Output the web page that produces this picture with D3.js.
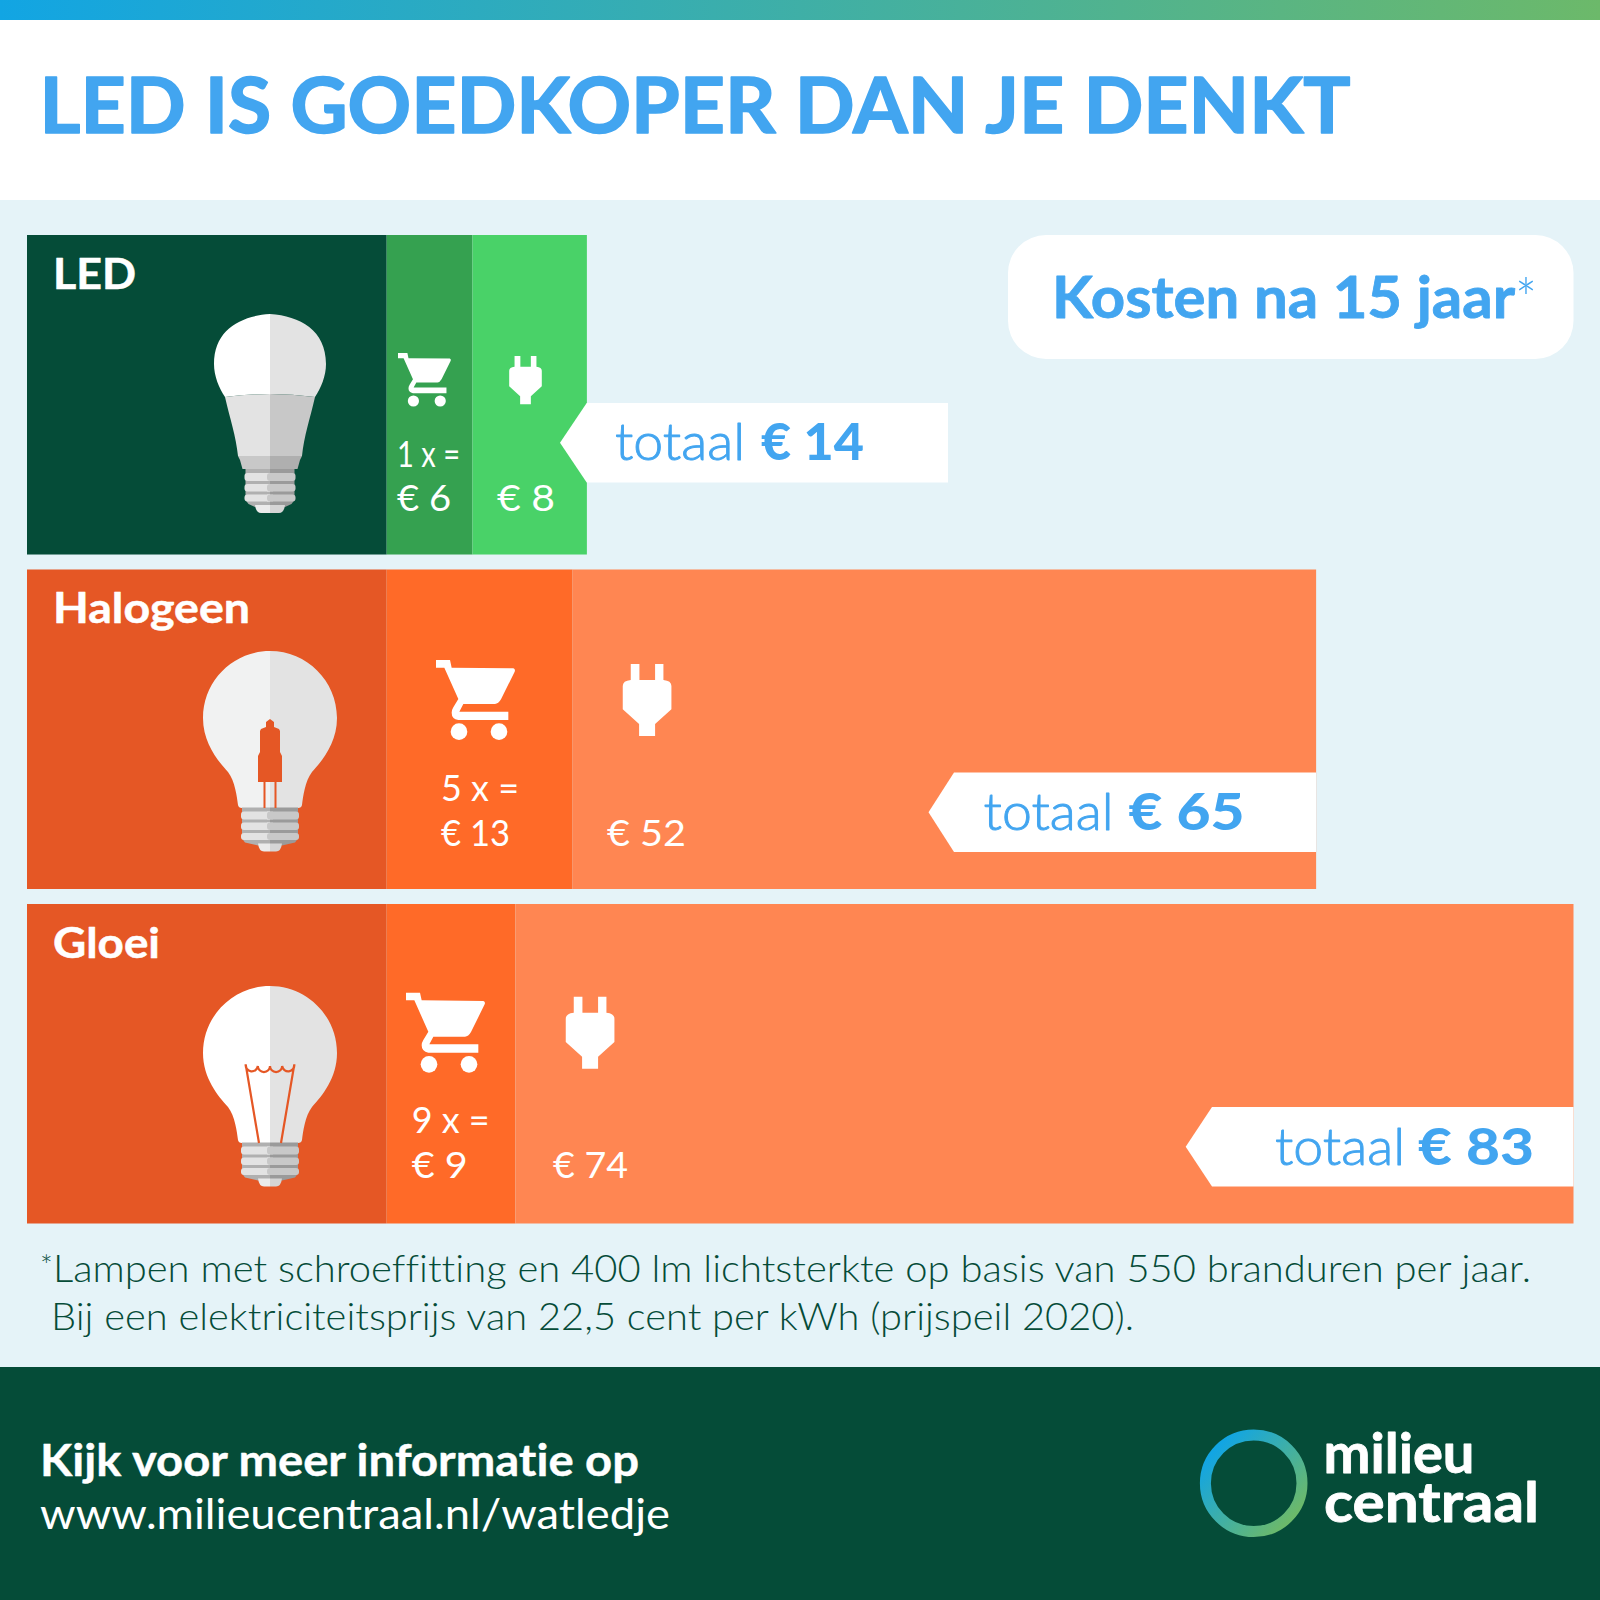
<!DOCTYPE html>
<html lang="nl">
<head>
<meta charset="utf-8">
<title>LED is goedkoper dan je denkt</title>
<script src="https://cdn.jsdelivr.net/npm/d3@7"></script>
<style>
  html, body { margin: 0; padding: 0; background: #e5f3f8; }
  svg { display: block; }
  text { font-family: Lato, "Open Sans", sans-serif; font-variant-ligatures: none; }
</style>
</head>
<body>
<svg id="chart" width="1600" height="1600"></svg>
<script>
// Values
const lampTypes = ["LED", "Halogeen", "Gloei"];
const lampCounts = [1, 5, 9];
const purchaseCosts = [6, 13, 9];
const powerCosts = [8, 52, 74];
const totalCosts = [14, 65, 83];

const titleText = "LED IS GOEDKOPER DAN JE DENKT";
const badgeText = "Kosten na 15 jaar";
const noteLines = [
  "Lampen met schroeffitting en 400 lm lichtsterkte op basis van 550 branduren per jaar.",
  "Bij een elektriciteitsprijs van 22,5 cent per kWh (prijspeil 2020)."
];
const footerLines = ["Kijk voor meer informatie op", "www.milieucentraal.nl/watledje"];
const logoLines = ["milieu", "centraal"];

// Colours per row: lamp panel, purchase part, power part
const ledColors = ["#054c38", "#35a150", "#49d268"];
const orangeColors = ["#e55725", "#ff6a28", "#ff8652"];
const rowColors = [ledColors, orangeColors, orangeColors];
const blue = "#42a5f0";

// Hand placed bits for each row, offsets are from the row top / segment start
const rowLayout = [
  { icon: 0.67, cartX: 398, cartY: 118, plugX: 53, plugY: 121, countX: 397, countW: 63, buyW: 54, powerX: 497, powerW: 58, line1: 232, line2: 276, boxY: 168, labelW: 83 },
  { icon: 1, cartX: 436, cartY: 90.5, plugX: 74.5, plugY: 94.5, countX: 441, countW: 78, buyW: 69, powerX: 607, powerW: 79, line1: 232, line2: 277, boxY: 203, labelW: 197 },
  { icon: 1, cartX: 406, cartY: 88.7, plugX: 74.7, plugY: 92.7, countX: 411.7, countW: 78, buyW: 56, powerX: 553, powerW: 75, line1: 229, line2: 274, boxY: 203, labelW: 107 }
];
const totalLayout = [
  { tip: 560, flat: 586.7, right: 948, text: 615, euro: 761, euroW: 103, base: 225 },
  { tip: 928.5, flat: 954, right: 1316, text: 983.6, euro: 1128.6, euroW: 116, base: 260.5 },
  { tip: 1185.7, flat: 1212, right: 1573.5, text: 1275, euro: 1418, euroW: 116, base: 261 }
];

const svg = d3.select("#chart");
const defs = svg.append("defs");

// 14.3 px per euro, same for all three bars
const x = d3.scaleLinear().domain([0, 83]).range([386.7, 1573.5]);
const y = d3.scaleBand().domain(lampTypes).range([235, 1223.5]).paddingInner(0.0448);

function addText(g, str, px, py, size, weight, fill, width, thicken) {
  const t = g.append("text")
    .attr("x", px).attr("y", py)
    .attr("font-size", size).attr("font-weight", weight)
    .attr("fill", fill)
    .text(str);
  if (width) t.attr("textLength", width).attr("lengthAdjust", "spacingAndGlyphs");
  if (thicken) t.attr("stroke", fill).attr("stroke-width", thicken).attr("stroke-linejoin", "round");
  return t;
}

// Background, header strip, footer
const topGrad = defs.append("linearGradient").attr("id", "topGrad");
topGrad.append("stop").attr("offset", "0%").attr("stop-color", "#12a5e3");
topGrad.append("stop").attr("offset", "100%").attr("stop-color", "#6cb96a");

svg.append("rect").attr("width", 1600).attr("height", 1600).attr("fill", "#e5f3f8");
svg.append("rect").attr("width", 1600).attr("height", 200).attr("fill", "#fff");
svg.append("rect").attr("width", 1600).attr("height", 20).attr("fill", "url(#topGrad)");
svg.append("rect").attr("y", 1367).attr("width", 1600).attr("height", 233).attr("fill", "#054c38");

addText(svg, titleText, 39.5, 132.5, 77, 700, blue, 1311, 1.6);

// Badge top right
svg.append("rect").attr("x", 1008).attr("y", 235).attr("width", 565.5).attr("height", 124)
  .attr("rx", 38).attr("fill", "#fff");
addText(svg, badgeText, 1052, 318, 57, 700, blue, 463, 0.8);
addText(svg, "*", 1515, 320, 58, 300, blue, 22);

// Shapes, left half of the lamp only, mirrored for the right half
const roundBulb = "M0,0 C-37,0 -67,30 -67,67 C-67,92 -52,110 -42,121 C-35,130 -33,146 -32,154 Q-31.5,157 -28,157 L0,157 Z";
const ledTop = "M0,0 C-30,2 -56,16 -56,50 C-56,62 -51,74 -45,83 Q-22,80 0,80 Z";
const ledLow = "M-45,83 Q-22,80 0,80 L0,142 L-32,142 C-34,122 -40,105 -45,83 Z";
const capsule = "M0,68 L-4,71 L-4,76 L-9,78 L-10,80 L-10,101 L-12,105 L-12,131 L12,131 L12,105 L10,101 L10,80 L9,78 L4,76 L4,71 Z";
const filament = "M-24.3,78.5 L-11,157 M24.3,78.5 L11,157 M-24.3,78.5 A6,6 0 0 0 -12.15,80 A6,6 0 0 0 0,80 A6,6 0 0 0 12.15,80 A6,6 0 0 0 24.3,78.5";
const cartPath = "M0,0 L42,0 L47,23 L232,25 Q239,28 236,35 L195,118 Q187,132 177,132 L82,132 L70,155 L217,155 L217,180 L67,180 Q47,177 47,158 Q47,150 52,142 L67,117 L25,23 L0,23 Z";
const plugPath = "M-49,48 L-49,0 L-23,0 L-23,48 L24,48 L24,0 L49,0 L49,48 Q73,50 73,66 L73,136 L24,180 L24,216 L-24,216 L-24,180 L-73,136 L-73,66 Q-73,50 -49,48 Z";

function drawBase(g, startY, hw, tipHw, left) {
  // threads of the lamp foot, rows alternate light and dark
  const light = left ? "#e3e3e3" : "#c8c8c8";
  const dark = left ? "#b0b0b0" : "#9a9a9a";
  const h = g.append("g").attr("transform", `translate(0,${startY})`);
  h.append("path").attr("d", `M0,0 L${-hw + 1},0 L${-hw + 1},31 L${-hw + 4},35 L${-tipHw},38 L0,38 Z`).attr("fill", dark);
  [[4, 8], [15, 7.5], [25.5, 7]].forEach(([ty, th]) => {
    h.append("rect").attr("x", -hw).attr("y", ty).attr("width", hw + 3).attr("height", th).attr("rx", 3).attr("fill", light);
    h.append("rect").attr("x", -3).attr("y", ty).attr("width", 3).attr("height", th).attr("fill", light);
  });
  h.append("path").attr("d", `M0,36 L${-tipHw},36 Q${-tipHw + 1},44 ${-tipHw + 6},44 L0,44 Z`).attr("fill", left ? "#ebebeb" : "#d5d5d5");
}

function drawBulb(g, kind, mark) {
  [true, false].forEach(left => {
    const side = g.append("g").attr("transform", left ? null : "scale(-1,1)");
    if (kind === "led") {
      side.append("path").attr("d", ledTop).attr("fill", left ? "#fff" : "#e3e3e3");
      side.append("path").attr("d", ledLow).attr("fill", left ? "#e3e3e3" : "#c8c8c8");
      side.append("path").attr("d", "M0,142 L-32,142 L-30,146 L-27.5,155 L0,155 Z").attr("fill", left ? "#c8c8c8" : "#afafaf");
      drawBase(side, 155, 25.5, 15, left);
    } else {
      side.append("path").attr("d", roundBulb).attr("fill", left ? (kind === "halogen" ? "#f1f2f2" : "#fff") : "#e3e3e3");
      drawBase(side, 156.5, 29, 12, left);
    }
  });
  if (kind === "halogen") {
    g.append("path").attr("d", capsule).attr("fill", mark);
    g.append("path").attr("d", "M-5.5,131 L-5.5,157 M5.5,131 L5.5,157").attr("stroke", mark).attr("stroke-width", 2).attr("fill", "none");
  }
  if (kind === "gloei") {
    g.append("path").attr("d", filament).attr("stroke", mark).attr("stroke-width", 2.2).attr("fill", "none");
  }
}

const bulbKinds = ["led", "halogen", "gloei"];
const bulbTops = [79, 81.5, 82];

lampTypes.forEach((name, i) => {
  const top = y(name);
  const h = y.bandwidth();
  const lay = rowLayout[i];
  const box = totalLayout[i];
  const colors = rowColors[i];
  const row = svg.append("g").attr("class", "row");

  // Lamp panel, then the two stacked cost parts from the scale
  row.append("rect").attr("x", 27).attr("y", top).attr("width", x(0) - 27).attr("height", h).attr("fill", colors[0]);
  row.append("rect").attr("x", x(0)).attr("y", top).attr("width", x(purchaseCosts[i]) - x(0)).attr("height", h).attr("fill", colors[1]);
  row.append("rect").attr("x", x(purchaseCosts[i])).attr("y", top).attr("width", x(totalCosts[i]) - x(purchaseCosts[i])).attr("height", h).attr("fill", colors[2]);

  addText(row, name, 53, top + 54, 42, 700, "#fff", lay.labelW, 0.5);

  drawBulb(row.append("g").attr("transform", `translate(270,${Math.round(top + bulbTops[i])})`), bulbKinds[i], colors[0]);

  // Cart icon
  const s = lay.icon / 3;
  const cart = row.append("g").attr("transform", `translate(${lay.cartX},${top + lay.cartY}) scale(${s})`).attr("fill", "#fff");
  cart.append("path").attr("d", cartPath);
  cart.append("circle").attr("cx", 69).attr("cy", 215).attr("r", 25);
  cart.append("circle").attr("cx", 189).attr("cy", 215).attr("r", 25);

  // Plug icon
  row.append("path").attr("d", plugPath).attr("fill", "#fff")
    .attr("transform", `translate(${x(purchaseCosts[i]) + lay.plugX},${top + lay.plugY}) scale(${s})`);

  addText(row, `${lampCounts[i]} x =`, lay.countX, top + lay.line1, 36, 400, "#fff", lay.countW);
  addText(row, `€ ${purchaseCosts[i]}`, lay.countX, top + lay.line2, 36, 400, "#fff", lay.buyW);
  addText(row, `€ ${powerCosts[i]}`, lay.powerX, top + lay.line2, 36, 400, "#fff", lay.powerW);

  // Total callout
  const boxTop = top + lay.boxY;
  const boxH = 79.5;
  row.append("path")
    .attr("d", `M${box.tip},${boxTop + boxH / 2} L${box.flat},${boxTop} L${box.right},${boxTop} L${box.right},${boxTop + boxH} L${box.flat},${boxTop + boxH} Z`)
    .attr("fill", "#fff");
  addText(row, "totaal", box.text, top + box.base, 52, 300, blue, 130, 0.9);
  addText(row, `€ ${totalCosts[i]}`, box.euro, top + box.base, 52, 900, blue, box.euroW);
});

// Footnote, the asterisk sits closer to the first word than the font wants
const noteColor = "#054c38";
const noteFirst = svg.append("text").attr("x", 40).attr("y", 1281.5)
  .attr("font-size", 38).attr("font-weight", 300).attr("fill", noteColor);
noteFirst.append("tspan").attr("font-size", 30).attr("dy", -5.5).text("*");
noteFirst.append("tspan").attr("x", 53).attr("dy", 5.5).attr("textLength", 1478).attr("lengthAdjust", "spacingAndGlyphs").text(noteLines[0]);
addText(svg, noteLines[1], 51, 1329.5, 38, 300, noteColor, 1083);

// Footer text
addText(svg, footerLines[0], 40, 1475.5, 43, 700, "#fff", 599, 0.4);
addText(svg, footerLines[1], 40, 1528.5, 43, 400, "#fff", 630);

// Logo ring with its gradient
const ringGrad = defs.append("linearGradient").attr("id", "ringGrad")
  .attr("gradientUnits", "userSpaceOnUse")
  .attr("x1", 1215).attr("y1", 1450).attr("x2", 1290).attr("y2", 1520);
ringGrad.append("stop").attr("offset", "0%").attr("stop-color", "#12a5e3");
ringGrad.append("stop").attr("offset", "100%").attr("stop-color", "#6cb96a");
svg.append("circle").attr("cx", 1253.7).attr("cy", 1483.3).attr("r", 48.3)
  .attr("fill", "none").attr("stroke", "url(#ringGrad)").attr("stroke-width", 11);

addText(svg, logoLines[0], 1323.5, 1473.3, 55, 700, "#fff", 151, 0.8);
addText(svg, logoLines[1], 1324, 1521.7, 55, 700, "#fff", 215, 0.8);
</script>
</body>
</html>
